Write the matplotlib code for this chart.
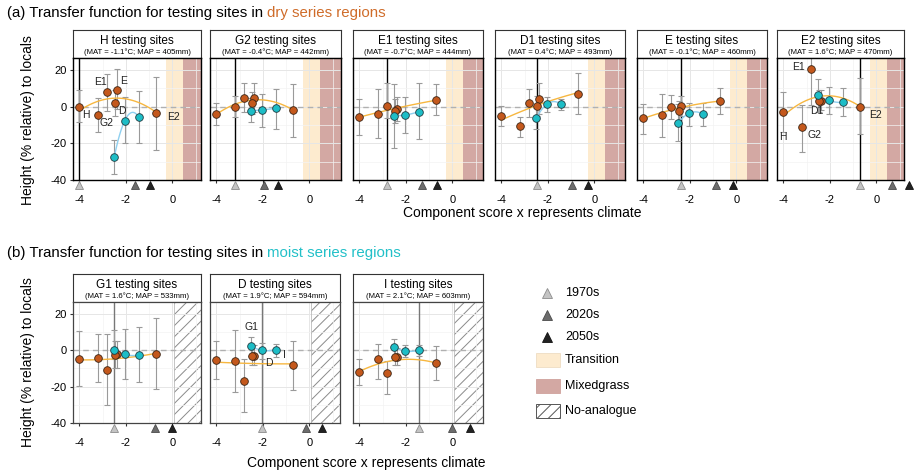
import matplotlib.pyplot as plt
import numpy as np
from matplotlib.patches import Rectangle

plt.rcParams['font.family'] = ['Liberation Sans', 'DejaVu Sans']
plt.rcParams['hatch.linewidth'] = 0.7
plt.rcParams['axes.unicode_minus'] = False

# seed sources and their climate component score (x position)
dry_src = ['H', 'G2', 'E1', 'E', 'D1', 'E2']
dry_score = [-4.0, -3.2, -2.83, -2.4, -2.47, -0.71]
moist_src = ['G1', 'D', 'I']
moist_score = [-2.5, -2.05, -1.44]

# testing sites
top_sites = ['H', 'G2', 'E1', 'D1', 'E', 'E2']
bottom_sites = ['G1', 'D', 'I']
site_info = {
    'H': '(MAT = -1.1°C; MAP = 405mm)',
    'G2': '(MAT = -0.4°C; MAP = 442mm)',
    'E1': '(MAT = -0.7°C; MAP = 444mm)',
    'D1': '(MAT = 0.4°C; MAP = 493mm)',
    'E': '(MAT = -0.1°C; MAP = 460mm)',
    'E2': '(MAT = 1.6°C; MAP = 470mm)',
    'G1': '(MAT = 1.6°C; MAP = 533mm)',
    'D': '(MAT = 1.9°C; MAP = 594mm)',
    'I': '(MAT = 2.1°C; MAP = 603mm)',
}
site_score = {'H': -4.0, 'G2': -3.2, 'E1': -2.83, 'D1': -2.47, 'E': -2.38,
              'E2': -0.71, 'G1': -2.5, 'D': -2.05, 'I': -1.44}
# future climate scores (2020s, 2050s)
future_score = {'H': (-1.6, -0.95), 'G2': (-1.96, -1.35), 'E1': (-1.32, -0.65),
                'D1': (-0.97, -0.3), 'E': (-0.87, -0.17), 'E2': (0.65, 1.38),
                'G1': (-0.74, -0.03), 'D': (-0.17, 0.55), 'I': (0.0, 0.75)}

# height (% relative to locals), dry sources in dry_src order
dry_h = {
    'H':  [0, -4.6, 7.9, 9.3, 2.0, -3.6],
    'G2': [-4.1, 0, 4.8, 4.5, 1.8, -1.8],
    'E1': [-5.9, -3.8, 0.3, -1.4, -2.2, 3.6],
    'D1': [-5.0, -10.4, 1.8, 4.3, 0.2, 7.0],
    'E':  [-6.25, -4.5, 0, 0.4, -2.5, 3.0],
    'E2': [-2.9, -10.9, 20.4, 3.0, 2.9, 0],
    'G1': [-4.7, -4.2, -10.9, -2.0, -2.6, -2.1],
    'D':  [-5.3, -6.1, -17.0, -3.0, -3.2, -8.2],
    'I':  [-11.8, -4.6, -12.6, -3.6, -3.8, -7.2],
}
dry_lo = {
    'H':  [-8.6, -13.6, -2.3, -1.5, -5, -23.4],
    'G2': [-9.8, -5.5, -3, -3, -4, -16.3],
    'E1': [-15.7, -17, -6, -8, -9, -4.6],
    'D1': [-10.4, -16.3, -5.4, -4, -5, -4.1],
    'E':  [-14.8, -16.3, -7, -5, -9, -4.1],
    'E2': [-13.9, -25, 1, -2, -3, -14.8],
    'G1': [-19.6, -17.2, -30, -10, -10, -21.4],
    'D':  [-15.8, -22.8, -34, -8, -8, -21.9],
    'I':  [-19, -16, -23.9, -8, -8, -16.5],
}
dry_hi = {
    'H':  [8.9, 4.5, 17.7, 20.4, 9, 15.9],
    'G2': [2, 5.7, 12.9, 13, 8, 12.5],
    'E1': [3.9, 9.6, 12.9, 5.2, 4, 12.3],
    'D1': [0.4, -5.4, 9.6, 12.9, 6, 18.2],
    'E':  [1.6, 7.1, 6.6, 6, 3, 10.2],
    'E2': [7.9, 1, 38, 9, 9, 15.5],
    'G1': [10.5, 9.1, 8.8, 5, 5, 17.9],
    'D':  [5.3, 10.9, -5, 3, 3, 5.3],
    'I':  [-5, 3.3, -6, 1, 1, 2.3],
}
moist_h = {
    'H':  [-27.5, -7.7, -5.9],
    'G2': [-2.3, -1.8, -0.9],
    'E1': [-5.0, -4.6, -2.7],
    'D1': [-6.4, 1.25, 1.25],
    'E':  [-8.9, -3.75, -4.1],
    'E2': [6.25, 3.4, 2.3],
    'G1': [0.35, -2.3, -2.6],
    'D':  [2.1, 0, 0.35],
    'I':  [1.6, -0.35, 0],
}
moist_lo = {
    'H':  [-36.6, -20, -20],
    'G2': [-8.2, -10.9, -12.1],
    'E1': [-22.5, -14.5, -17.5],
    'D1': [-12, -3.2, -2],
    'E':  [-18.9, -10.4, -10.4],
    'E2': [-3, -4, -5],
    'G1': [-5, -15.8, -17.2],
    'D':  [-3, -5, -3.5],
    'I':  [-3, -4, -3],
}
moist_hi = {
    'H':  [-18.4, 5.2, 8.4],
    'G2': [4.8, 7, 9.8],
    'E1': [12.5, 5.2, 12.9],
    'D1': [-0.5, 5.4, 4],
    'E':  [1.2, 2.1, 2.1],
    'E2': [15, 10.5, 10.2],
    'G1': [11, 11.4, 12.6],
    'D':  [7.4, 4, 3.5],
    'I':  [6, 3, 3],
}
# point labels inside some panels
point_labels = {
    'H': [('H', -3.7, -4.5), ('G2', -2.84, -9.1), ('E1', -3.1, 13.4),
          ('E', -2.1, 13.75), ('D', -2.17, -2.3), ('E2', 0.04, -5.9)],
    'E2': [('E1', -3.34, 21.8), ('D1', -2.56, -2.3), ('H', -4.0, -16.6),
           ('G2', -2.68, -15.2), ('E2', -0.03, -4.5)],
    'D': [('G1', -2.48, 12.6), ('I', -1.08, -2.6), ('D', -1.76, -7.0)],
}

ORANGE = '#c4581c'
CYAN = '#1dbdc6'
W, H = 914, 473

fig = plt.figure(figsize=(W / 100, H / 100), dpi=100)


def px_axes(x0, y0, x1, y1):
    return fig.add_axes([x0 / W, 1 - y1 / H, (x1 - x0) / W, (y1 - y0) / H])


def fit(ax, xs, ys, color):
    xs = np.asarray(xs)
    c = np.polyfit(xs, ys, 2)
    xx = np.linspace(xs.min(), xs.max(), 100)
    ax.plot(xx, np.polyval(c, xx), color=color, lw=1, zorder=3)


def panel(site, x0, x1, y0, y1, row):
    strip = px_axes(x0, y0 - 28, x1, y0)
    strip.set_xticks([])
    strip.set_yticks([])
    for s in strip.spines.values():
        s.set_color('#333333')
        s.set_linewidth(0.8)
    strip.text(0.5, 0.62, site + ' testing sites', ha='center', va='center', fontsize=8.5)
    strip.text(0.5, 0.2, site_info[site], ha='center', va='center', fontsize=5.6)

    ax = px_axes(x0, y0, x1, y1)
    xmin = -4.27
    xmax = xmin + (x1 - x0) / 23.3
    ax.set_xlim(xmin, xmax)
    ax.set_ylim(-40, 26.5)
    ax.set_xticks([-4, -2, 0])
    ax.set_xticks([-3, -1, 1], minor=True)
    ax.set_yticks([-40, -20, 0, 20])
    ax.set_yticks([-30, -10, 10], minor=True)
    ax.grid(True, which='major', color='#e6e6e6', lw=0.7, zorder=0)
    ax.grid(True, which='minor', color='#f3f3f3', lw=0.5, zorder=0)
    ax.set_axisbelow(True)
    ax.tick_params(axis='x', which='major', labelsize=8, length=2, pad=9, color='#333333')
    ax.tick_params(axis='y', which='major', labelsize=8, length=2.5, pad=2, color='#333333')
    ax.tick_params(which='minor', length=0)
    if x0 > 100:
        ax.tick_params(axis='y', labelleft=False, length=0)
    frame = 'black' if row == 0 else '#444444'
    for s in ax.spines.values():
        s.set_color(frame)
        s.set_linewidth(1.0 if row == 0 else 0.9)

    if row == 0:
        ax.axvspan(-0.27, 0.43, color='#fdebcf', lw=0, zorder=0.5)
        ax.axvspan(0.43, xmax + 1, color='#d3a8a3', lw=0, zorder=0.5)
    else:
        ax.axvspan(0.08, xmax + 1, facecolor='white', edgecolor='#8a8a8a',
                   hatch='///', lw=0, zorder=0.5)
        ax.axvline(0.08, color='#bbbbbb', lw=0.6, zorder=0.6)

    ax.axhline(0, color='#b0b0b0', lw=1, dashes=(4, 3), zorder=1)
    ax.axvline(site_score[site], color='black' if row == 0 else '#777777', lw=1, zorder=1.5)

    dy = np.array(dry_h[site])
    my = np.array(moist_h[site])
    ax.errorbar(dry_score, dy, yerr=[dy - np.array(dry_lo[site]), np.array(dry_hi[site]) - dy],
                fmt='none', ecolor='#9a9a9a', elinewidth=0.8, capsize=2, capthick=0.8, zorder=2)
    ax.errorbar(moist_score, my, yerr=[my - np.array(moist_lo[site]), np.array(moist_hi[site]) - my],
                fmt='none', ecolor='#9a9a9a', elinewidth=0.8, capsize=2, capthick=0.8, zorder=2)
    fit(ax, dry_score, dy, '#f7b740')
    fit(ax, moist_score, my, '#8fd0f0')
    ax.plot(dry_score, dy, 'o', ms=5.5, mfc=ORANGE, mec='#3a2414', mew=0.6, zorder=4, clip_on=False)
    ax.plot(moist_score, my, 'o', ms=5.5, mfc=CYAN, mec='#1f3a40', mew=0.6, zorder=5, clip_on=False)

    for txt, lx, ly in point_labels.get(site, []):
        ax.text(lx, ly, txt, ha='center', va='center', fontsize=7.5, color='#222222', zorder=6)

    tr = ax.get_xaxis_transform()
    f20, f50 = future_score[site]
    ax.plot(site_score[site], -0.045, '^', ms=6, mfc='#c4c4c4', mec='#8c8c8c', mew=0.6,
            transform=tr, clip_on=False, zorder=7)
    ax.plot(f20, -0.045, '^', ms=6, mfc='#6c6c6c', mec='#4a4a4a', mew=0.6,
            transform=tr, clip_on=False, zorder=7)
    ax.plot(f50, -0.045, '^', ms=6, mfc='#222222', mec='#111111', mew=0.6,
            transform=tr, clip_on=False, zorder=7)
    return ax


top_x = [(73, 201), (210, 341), (353, 483), (495, 625), (637, 767), (777, 904)]
for site, (a, b) in zip(top_sites, top_x):
    panel(site, a, b, 58, 180, 0)

bottom_x = [(73, 201), (210, 340), (353, 483)]
for site, (a, b) in zip(bottom_sites, bottom_x):
    panel(site, a, b, 302, 423, 1)

# titles with coloured region names
r = fig.canvas.get_renderer()
t1 = fig.text(7 / W, 1 - 13 / H, '(a) Transfer function for testing sites in ', fontsize=10.8, va='center')
bb = t1.get_window_extent(renderer=r)
fig.text(bb.x1 / W, 1 - 13 / H, 'dry series regions', fontsize=10.8, va='center', color='#cf6c2a')
t2 = fig.text(7 / W, 1 - 253 / H, '(b) Transfer function for testing sites in ', fontsize=10.8, va='center')
bb = t2.get_window_extent(renderer=r)
fig.text(bb.x1 / W, 1 - 253 / H, 'moist series regions', fontsize=10.8, va='center', color='#22c0c8')

# axis labels
fig.text(28 / W, 1 - 120 / H, 'Height (% relative) to locals', rotation=90, ha='center', va='center', fontsize=10)
fig.text(28 / W, 1 - 362 / H, 'Height (% relative) to locals', rotation=90, ha='center', va='center', fontsize=10)
fig.text(522 / W, 1 - 213 / H, 'Component score x represents climate', ha='center', va='center', fontsize=10)
fig.text(366 / W, 1 - 463 / H, 'Component score x represents climate', ha='center', va='center', fontsize=10)

# legend drawn in pixel space
lg = px_axes(520, 270, 720, 430)
lg.set_xlim(520, 720)
lg.set_ylim(430, 270)
lg.axis('off')
tri = [('1970s', '#c4c4c4', '#8c8c8c', 293), ('2020s', '#6c6c6c', '#4a4a4a', 315), ('2050s', '#222222', '#111111', 337)]
for name, fc, ec, yy in tri:
    lg.plot(547, yy, '^', ms=7, mfc=fc, mec=ec, mew=0.6, clip_on=False)
    lg.text(565, yy, name, va='center', fontsize=9)
patches = [('Transition', dict(facecolor='#fdebcf', edgecolor='#f0e0c8'), 360),
           ('Mixedgrass', dict(facecolor='#d3a8a3', edgecolor='#d3a8a3'), 386),
           ('No-analogue', dict(facecolor='white', edgecolor='#555555', hatch='///'), 411)]
for name, kw, yy in patches:
    lg.add_patch(Rectangle((536, yy - 7), 24, 14, lw=0.7, clip_on=False, **kw))
    lg.text(565, yy, name, va='center', fontsize=9)

fig.savefig('out.png', dpi=100)
